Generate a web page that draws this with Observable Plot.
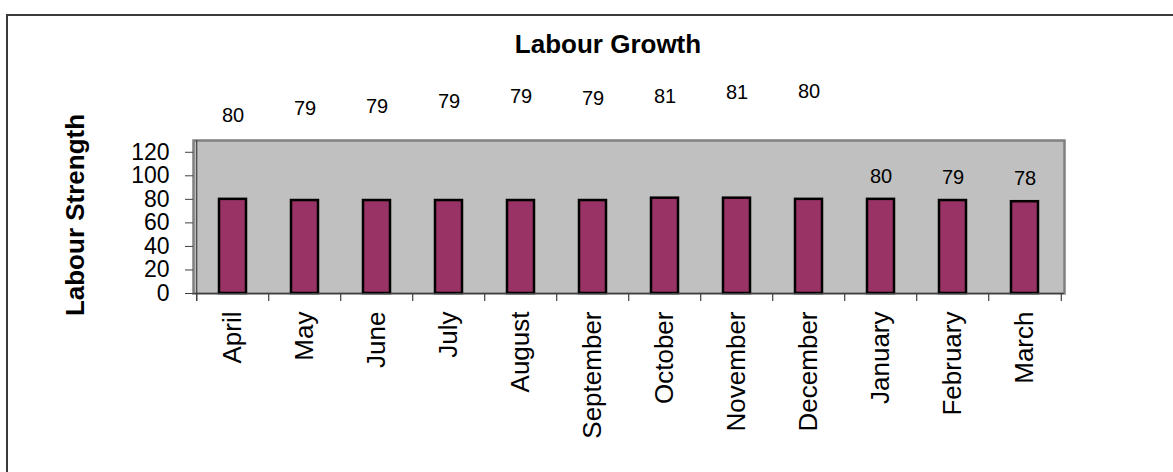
<!DOCTYPE html>
<html>
<head>
<meta charset="utf-8">
<script src="https://cdn.jsdelivr.net/npm/d3@7"></script>
<script src="https://cdn.jsdelivr.net/npm/@observablehq/plot@0.6"></script>
<style>
  html, body { margin: 0; padding: 0; background: #fff; overflow: hidden; }
  #wrap { position: relative; width: 1173px; height: 472px; overflow: hidden; font-family: "Liberation Sans", Arial, sans-serif; }
  #border { position: absolute; left: 6px; top: 14px; width: 3000px; height: 3000px; border-left: 2px solid #3a3a3a; border-top: 2px solid #3a3a3a; }
  #title { position: absolute; left: 608px; top: 31px; transform: translateX(-50%); font-weight: bold; font-size: 26px; line-height: 26px; white-space: nowrap; color: #000; }
  #ylab { position: absolute; left: 75px; top: 215px; transform: translate(-50%, -50%) rotate(-90deg); font-weight: bold; font-size: 26px; white-space: nowrap; color: #000; }
  #chart { position: absolute; left: 0; top: 0; }
</style>
</head>
<body>
<div id="wrap">
  <div id="border"></div>
  <div id="chart"></div>
  <div id="title">Labour Growth</div>
  <div id="ylab">Labour Strength</div>
</div>
<script>
// Categories (months of the financial year)
const months = ["April", "May", "June", "July", "August", "September", "October", "November", "December", "January", "February", "March"];
// Labour strength per month
const strength = [80, 79, 79, 79, 79, 79, 81, 81, 80, 80, 79, 78];
// Value at which each data label sits in the picture (labels drifted above the plot area)
const labelHeight = [151, 157, 159, 163, 167, 166, 167, 170.5, 171.5, 99, 98.6, 97.7];
// Y axis tick values
const yTicks = [0, 20, 40, 60, 80, 100, 120];

const data = months.map((m, i) => ({month: m, value: strength[i], labelAt: labelHeight[i]}));

const W = 1173, H = 472;
const mL = 193, mR = 109, mT = 140, mB = 179;
const step = (W - mL - mR) / months.length;
const plotH = H - mT - mB;

const chart = Plot.plot({
  width: W,
  height: H,
  marginLeft: mL,
  marginRight: mR,
  marginTop: mT,
  marginBottom: mB,
  style: {fontFamily: "'Liberation Sans', Arial, sans-serif", background: "transparent", overflow: "visible"},
  x: {domain: months, paddingInner: 0.62, paddingOuter: 0.31, label: null},
  y: {domain: [0, 130], label: null},
  marks: [
    Plot.frame({fill: "#c0c0c0", stroke: "#808080", strokeWidth: 2.5}),
    Plot.barY(data, {x: "month", y: "value", fill: "#993366", stroke: "#000", strokeWidth: 2.5}),
    // axis lines
    Plot.ruleY([0], {stroke: "#404040", strokeWidth: 1.2}),
    Plot.tickX([months[0]], {x: d => d, dx: -step / 2, stroke: "#404040", strokeWidth: 1.2, insetBottom: -8}),
    // category boundary ticks
    Plot.tickX(months, {x: d => d, dx: -step / 2, stroke: "#404040", strokeWidth: 1.2, insetTop: plotH, insetBottom: -8}),
    Plot.tickX([months[months.length - 1]], {x: d => d, dx: step / 2, stroke: "#404040", strokeWidth: 1.2, insetTop: plotH, insetBottom: -8}),
    Plot.axisY({ticks: yTicks, tickSize: 8, tickPadding: 16, fontSize: 23, stroke: "#404040", color: "#000", label: null}),
    Plot.axisX({tickRotate: -90, tickSize: 0, tickPadding: 18, fontSize: 26, color: "#000", label: null}),
    Plot.text(data, {x: "month", y: "labelAt", text: d => String(d.value), fontSize: 20, fill: "#000"})
  ]
});
document.getElementById("chart").appendChild(chart);
</script>
</body>
</html>
